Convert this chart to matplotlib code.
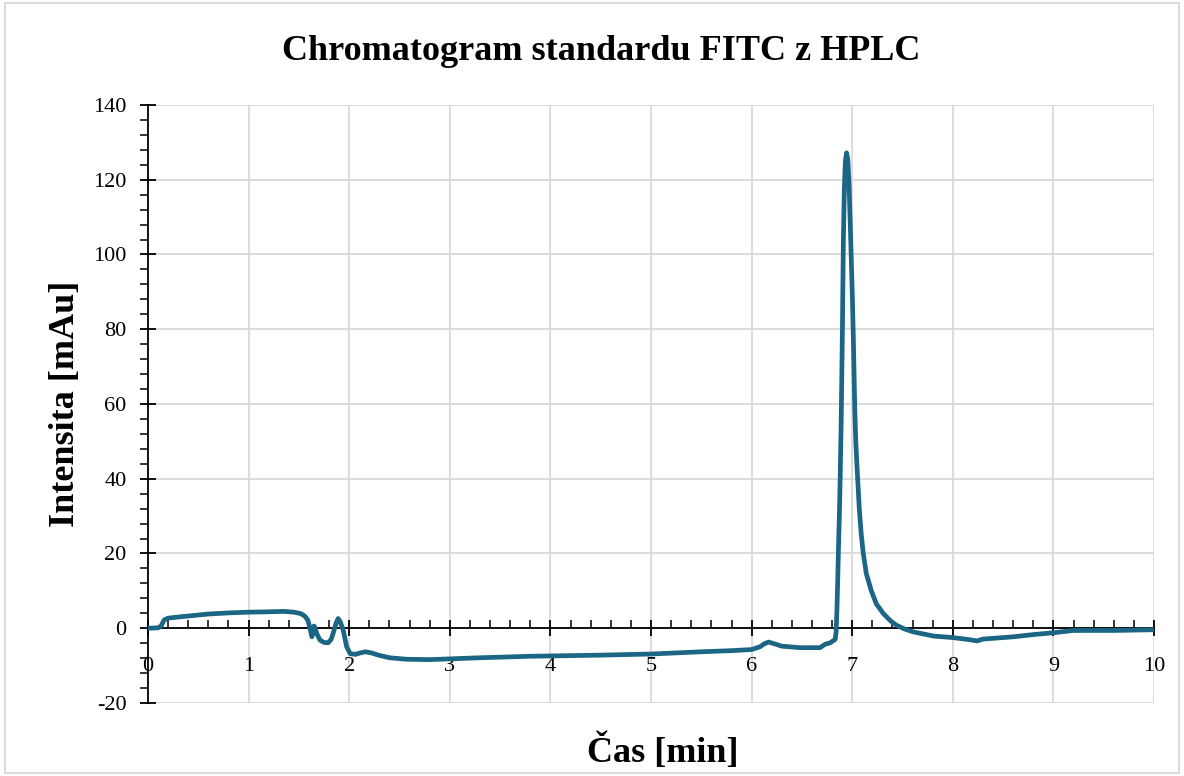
import numpy as np
import matplotlib.pyplot as plt
from matplotlib.ticker import MultipleLocator
from matplotlib.patches import Rectangle

plt.rcParams['font.family'] = ['Liberation Serif', 'DejaVu Serif']

# Data (time in min, intensity in mAu)
cas = [0.0, 0.10, 0.13, 0.16, 0.20, 0.30, 0.45, 0.60, 0.80, 1.00, 1.20, 1.35, 1.45,
       1.52, 1.56, 1.59, 1.61, 1.63, 1.65, 1.665, 1.68, 1.71, 1.75, 1.79, 1.82, 1.84,
       1.87, 1.89, 1.91, 1.94, 1.975, 2.01, 2.06, 2.11, 2.16, 2.22, 2.29, 2.40, 2.57,
       2.80, 3.00, 3.30, 3.80, 4.50, 5.00, 5.50, 5.80, 6.00, 6.08, 6.13, 6.17, 6.23,
       6.30, 6.48, 6.68, 6.73, 6.78, 6.83, 6.84, 6.848, 6.855, 6.862, 6.872, 6.88,
       6.89, 6.902, 6.912, 6.922, 6.932, 6.944, 6.956, 6.968, 6.985, 7.00, 7.01,
       7.025, 7.035, 7.05, 7.07, 7.09, 7.11, 7.14, 7.19, 7.24, 7.31, 7.38, 7.44,
       7.52, 7.61, 7.81, 8.00, 8.15, 8.24, 8.30, 8.40, 8.60, 8.80, 9.00, 9.20,
       9.60, 10.0]
intenzita = [0.0, 0.1, 0.6, 2.2, 2.7, 3.0, 3.4, 3.8, 4.1, 4.3, 4.4, 4.5, 4.3,
             3.9, 3.2, 2.1, 0.0, -2.3, 0.6, -0.3, -1.6, -3.2, -3.8, -3.9, -3.0, -1.4,
             1.4, 2.6, 1.8, -0.5, -5.0, -6.8, -7.0, -6.6, -6.3, -6.6, -7.2, -7.9, -8.3,
             -8.4, -8.2, -7.9, -7.5, -7.2, -6.9, -6.3, -6.0, -5.7, -5.0, -4.1, -3.7, -4.2,
             -4.8, -5.2, -5.2, -4.3, -3.9, -3.0, -1.0, 5.0, 12.0, 20.0, 30.0, 40.0,
             55.0, 79.0, 104.0, 118.0, 125.0, 127.2, 125.5, 119.0, 104.0, 90.0, 79.0,
             59.0, 50.0, 42.0, 32.0, 25.0, 20.0, 14.6, 10.0, 6.5, 3.9, 2.0, 0.8,
             -0.2, -1.0, -2.1, -2.5, -3.0, -3.4, -2.9, -2.7, -2.3, -1.7, -1.2, -0.6,
             -0.6, -0.4]

fig = plt.figure(figsize=(11.84, 7.76), dpi=100)
ax = fig.add_axes([0.125, 0.0941, 0.8497, 0.7706])

ax.plot(cas, intenzita, color='#1b6585', linewidth=3.4, solid_capstyle='round',
        solid_joinstyle='round', zorder=3)

ax.set_xlim(0, 10)
ax.set_ylim(-20, 140)
ax.xaxis.set_major_locator(MultipleLocator(1))
ax.xaxis.set_minor_locator(MultipleLocator(0.2))
ax.yaxis.set_major_locator(MultipleLocator(20))
ax.yaxis.set_minor_locator(MultipleLocator(4))

ax.grid(True, which='major', color='#d9d9d9', linewidth=1.3, zorder=0)
ax.set_axisbelow(True)

for s in ['top', 'right']:
    ax.spines[s].set_visible(False)
ax.spines['bottom'].set_position(('data', 0))
ax.spines['bottom'].set_linewidth(1.3)
ax.spines['left'].set_linewidth(1.3)

ax.tick_params(axis='x', which='major', direction='inout', length=11, width=1.3,
               labelsize=16, pad=15)
ax.tick_params(axis='x', which='minor', direction='in', length=6, width=1.1)
ax.tick_params(axis='y', which='major', direction='inout', length=11, width=1.3,
               labelsize=16, pad=10)
ax.tick_params(axis='y', which='minor', direction='out', length=6, width=1.1)

ax.set_yticks(range(-20, 141, 20))
ax.set_yticklabels([str(v) for v in range(-20, 141, 20)])

fig.text(0.5078, 0.933, 'Chromatogram standardu FITC z HPLC', ha='center', va='center',
         fontsize=26, fontweight='bold')
fig.text(0.56, 0.031, 'Čas [min]', ha='center', va='center', fontsize=26,
         fontweight='bold')
fig.text(0.055, 0.479, 'Intensita [mAu]', ha='center', va='center', fontsize=26,
         fontweight='bold', rotation=90)

fig.patches.append(Rectangle((0.004, 0.004), 0.992, 0.992, transform=fig.transFigure,
                             fill=False, edgecolor='#d9d9d9', linewidth=1.3))

fig.savefig('out.png', dpi=100)
